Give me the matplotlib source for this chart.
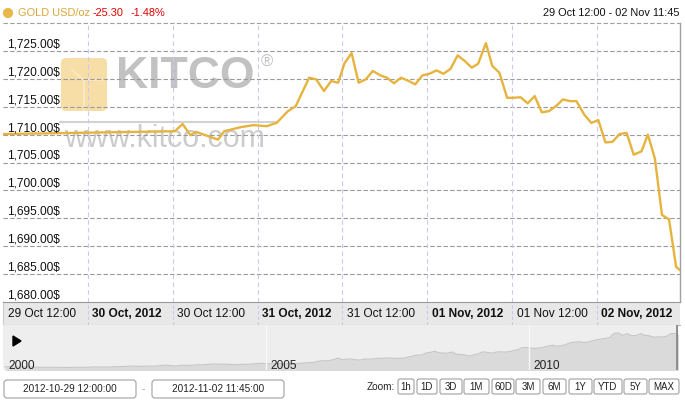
import matplotlib
matplotlib.use("Agg")
import matplotlib.pyplot as plt
import matplotlib.transforms as mtransforms
from matplotlib.patches import FancyBboxPatch, Circle, Polygon
import numpy as np

plt.rcParams['font.family'] = ['Liberation Sans', 'DejaVu Sans']

# --- data -----------------------------------------------------------------
# hours after 29 Oct 2012 12:00
hours = [0, 24.3, 25.4, 26.5, 27.3, 30.4, 31.3, 33.5, 35.4, 37.3,
         38.7, 40.3, 41.4, 43.3, 44.3, 45.4, 46.4, 47.4, 48.3, 49.3,
         50.3, 51.3, 52.3, 53.4, 54.3, 55.3, 56.3, 57.4, 58.3, 59.3,
         60.3, 61.3, 62.3, 63.3, 64.3, 65.2, 66.3, 67.2, 68.3, 69.2,
         70.2, 71.3, 72.2, 73.2, 74.2, 75.2, 76.2, 77.2, 78.2, 79.2,
         80.2, 81.1, 82.2, 83.2, 84.2, 85.2, 86.2, 87.2, 88.2, 89.2,
         90.3, 91.2, 92.2, 93.2, 94.2, 95.2, 95.75]
prices = [1710.1, 1710.6, 1711.9, 1709.9, 1710.5, 1709.1, 1710.6, 1711.3, 1711.7, 1711.5,
          1712.1, 1714.2, 1715.1, 1720.2, 1719.9, 1717.8, 1719.6, 1719.3, 1722.8, 1724.6,
          1719.3, 1719.9, 1721.4, 1720.6, 1720.2, 1719.2, 1720.2, 1719.6, 1719.0, 1720.6,
          1720.9, 1721.5, 1720.9, 1721.8, 1724.2, 1723.3, 1722.0, 1722.7, 1726.4, 1722.3,
          1721.1, 1716.6, 1716.6, 1716.7, 1715.6, 1716.9, 1714.0, 1714.2, 1715.1, 1716.3,
          1716.0, 1716.0, 1713.6, 1712.1, 1712.6, 1708.6, 1708.7, 1710.1, 1710.3, 1706.4,
          1707.0, 1710.0, 1705.7, 1695.6, 1694.8, 1686.3, 1685.7]

y_ticks = [1680, 1685, 1690, 1695, 1700, 1705, 1710, 1715, 1720, 1725]
x_ticks = [0, 12, 24, 36, 48, 60, 72, 84]
x_labels = ["29 Oct 12:00", "30 Oct, 2012", "30 Oct 12:00", "31 Oct, 2012",
            "31 Oct 12:00", "01 Nov, 2012", "01 Nov 12:00", "02 Nov, 2012"]

# navigator: monthly gold price 2000 - Nov 2012
hist_prices = [284, 300, 286, 280, 275, 285, 282, 274, 273, 270, 266, 272,
               266, 262, 263, 261, 272, 270, 268, 273, 283, 283, 276, 276,
               282, 296, 294, 302, 314, 321, 314, 310, 319, 317, 319, 333,
               356, 359, 340, 328, 355, 356, 351, 360, 379, 379, 389, 407,
               414, 405, 406, 404, 384, 392, 398, 400, 406, 420, 439, 442,
               424, 423, 434, 429, 422, 431, 424, 437, 456, 470, 476, 510,
               549, 555, 557, 610, 676, 596, 633, 632, 598, 586, 628, 629,
               631, 665, 655, 680, 668, 656, 666, 666, 712, 754, 806, 803,
               889, 922, 968, 909, 888, 889, 939, 839, 829, 806, 760, 816,
               858, 943, 924, 890, 929, 946, 934, 949, 996, 1043, 1127, 1135,
               1118, 1095, 1113, 1148, 1205, 1233, 1193, 1215, 1271, 1343, 1370, 1391,
               1356, 1372, 1424, 1474, 1510, 1529, 1572, 1756, 1772, 1665, 1739, 1652,
               1656, 1742, 1673, 1650, 1585, 1596, 1594, 1630, 1744, 1747, 1712]
hist_years = 2000 + (np.arange(len(hist_prices)) + 0.5) / 12
nav_years = [2000, 2005, 2010]

zoom_buttons = ["1h", "1D", "3D", "1M", "60D", "3M", "6M", "1Y", "YTD", "5Y", "MAX"]
start_txt = "2012-10-29 12:00:00"
end_txt = "2012-11-02 11:45:00"

gold = "#E6B33E"
W, H = 685, 403
fig = plt.figure(figsize=(W / 100, H / 100), dpi=100)


def px_axes(x0, y0, x1, y1, z):
    return fig.add_axes([x0 / W, 1 - y1 / H, (x1 - x0) / W, (y1 - y0) / H], zorder=z)


# background layer (watermark)
bg = fig.add_axes([0, 0, 1, 1], zorder=0)
bg.set_xlim(0, W)
bg.set_ylim(H, 0)
bg.axis('off')
bg.add_patch(FancyBboxPatch((61, 58), 46, 53, boxstyle="round,pad=0,rounding_size=5",
                            fc="#F6DEA6", ec="none"))
bg.plot([72, 84, 84], [70, 80, 110], color="#FBEBC6", lw=1.2)
bg.plot([84, 104], [80, 80], color="#FBEBC6", lw=1.2)
bg.text(116, 77, "KITCO", fontsize=32, fontweight='bold', color="#C2C2C2",
        ha='left', va='center')
bg.text(261, 62, "\u00ae", fontsize=12, color="#C2C2C2", ha='left', va='center')
bg.plot([60, 275], [122, 122], color="#D2D2D2", lw=1.5)
bg.text(64, 139, "www.kitco.com", fontsize=22, color="#CCCCCC", ha='left', va='center')

# main price axes
ax = px_axes(3, 23, 680, 302, 2)
ax.set_facecolor('none')
for s in ax.spines.values():
    s.set_visible(False)
ax.set_xlim(0, 95.75)
ax.set_ylim(1680, 1730)
ax.set_xticks([])
ax.set_yticks([])
for v in y_ticks[1:]:
    ax.axhline(v, color="#9A9A9A", lw=0.8, dashes=(4, 2), zorder=1)
ax.axhline(1730, color="#A0A0A0", lw=0.8, dashes=(4, 2), clip_on=False)
for t in x_ticks[1:]:
    ax.axvline(t, color="#C9C9F2", lw=0.8, dashes=(4, 3), zorder=1)
ax.axvline(95.75, color="#A0A0A0", lw=1, clip_on=False)
ax.plot(hours, prices, color=gold, lw=1.7, zorder=3)

ylab_tr = mtransforms.offset_copy(
    mtransforms.blended_transform_factory(ax.transAxes, ax.transData),
    fig=fig, x=4, y=3.5, units='dots')
for v in y_ticks:
    ax.text(0, v, f"{v:,.2f}$", transform=ylab_tr, fontsize=8.6, color="#111111",
            ha='left', va='baseline')

# date band
band = px_axes(3, 302, 680, 325, 3)
band.set_facecolor("#E8E8E8")
band.set_xlim(0, 95.75)
band.set_ylim(0, 1)
band.set_xticks([])
band.set_yticks([])
band.spines['top'].set_color("#999999")
band.spines['bottom'].set_color("#B5B5B5")
band.spines['left'].set_color("#CCCCCC")
band.spines['right'].set_visible(False)
lab_tr = mtransforms.offset_copy(band.transData, fig=fig, x=4.5, y=0, units='dots')
for i, (t, lab) in enumerate(zip(x_ticks, x_labels)):
    if i > 0:
        band.axvline(t, color="#C9C9F2", lw=0.8, dashes=(3, 2))
    band.text(t, 0.47, lab, transform=lab_tr, fontsize=8.6, color="#111111",
              fontweight='bold' if i % 2 else 'normal', ha='left', va='center')

# navigator
nav = px_axes(3, 325, 678, 370, 3)
nav.set_facecolor("#EEEEEE")
nav.set_xlim(2000, 2012.84)
nav.set_ylim(150, 2120)
nav.set_xticks([])
nav.set_yticks([])
for s in nav.spines.values():
    s.set_visible(False)
nav.fill_between(hist_years, hist_prices, 0, color="#DADADA", lw=0)
nav.plot(hist_years, hist_prices, color="#C6C6C6", lw=0.8)
nav.axvline(2012.82, color="#8A8A8A", lw=2)
nav_tr = mtransforms.offset_copy(nav.transData, fig=fig, x=5, y=0, units='dots')
for yr in nav_years:
    if yr > 2000:
        nav.axvline(yr, color="#F8F8F8", lw=1)
    nav.text(yr, 330, str(yr), transform=nav_tr, fontsize=8.6, color="#222222",
             ha='left', va='center')

# foreground layer: header, controls
fg = fig.add_axes([0, 0, 1, 1], zorder=5)
fg.set_facecolor('none')
fg.set_xlim(0, W)
fg.set_ylim(H, 0)
fg.axis('off')
fg.add_patch(Circle((8, 13), 4.4, color="#E8B84A"))
fg.text(18, 13, "GOLD USD/oz", fontsize=7.9, color="#D9A93A", ha='left', va='center')
fg.text(93, 13, "-25.30", fontsize=7.9, color="#E00000", ha='left', va='center')
fg.text(131, 13, "-1.48%", fontsize=7.9, color="#E00000", ha='left', va='center')
fg.text(680, 13, "29 Oct 12:00 - 02 Nov 11:45", fontsize=7.9, color="#111111",
        ha='right', va='center')
fg.add_patch(Polygon([(13, 336), (13, 346), (21, 341)], closed=True, color="black"))

for x0, txt in [(4, start_txt), (152, end_txt)]:
    fg.add_patch(FancyBboxPatch((x0, 380), 132, 18, boxstyle="round,pad=0,rounding_size=3",
                                fc="white", ec="#A0A0A0", lw=0.8))
    fg.text(x0 + 66, 389.5, txt, fontsize=7.2, color="#222222", ha='center', va='center')
fg.text(143, 389.5, "-", fontsize=7.2, color="#999999", ha='center', va='center')

fg.text(395, 387, "Zoom:", fontsize=7.2, color="#222222", ha='right', va='center')
btn_x = [398, 417, 440, 464, 492, 516, 543, 569, 594, 624, 649]
btn_w = [16, 20, 22, 25, 22, 24, 23, 23, 28, 23, 30]
for bx, bw, name in zip(btn_x, btn_w, zoom_buttons):
    fg.add_patch(FancyBboxPatch((bx, 379), bw, 15, boxstyle="round,pad=0,rounding_size=2",
                                fc="white", ec="#A0A0A0", lw=0.8))
    fg.text(bx + bw / 2, 386.8, name, fontsize=7.0, color="#222222", ha='center', va='center')

fig.savefig("out.png", dpi=100)
